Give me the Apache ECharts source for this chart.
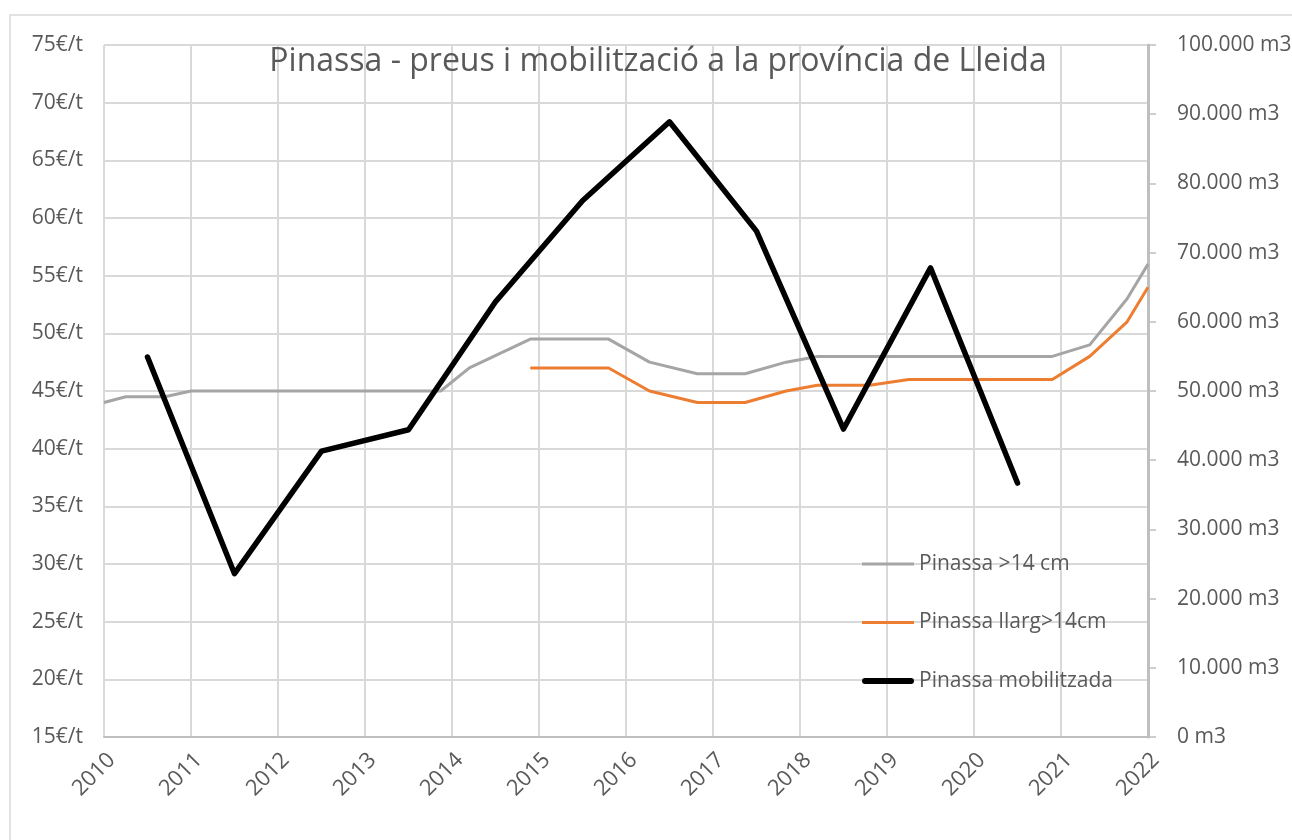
<!DOCTYPE html>
<html>
<head>
<meta charset="utf-8">
<script src="https://cdn.jsdelivr.net/npm/echarts@6/dist/echarts.min.js"></script>
<style>
  html, body { margin: 0; padding: 0; background: #fff; }
  #chart { width: 1292px; height: 840px; }
</style>
</head>
<body>
<div id="chart"></div>
<script>
// Pinassa >14 cm (€/t)
const grayYears = [2010.0, 2010.25, 2010.7, 2011.0, 2013.87, 2014.2, 2014.9, 2015.8, 2016.27, 2016.82, 2017.37, 2017.84, 2018.2, 2020.9, 2021.33, 2021.76, 2022.0];
const grayPrices = [44, 44.5, 44.5, 45, 45, 47, 49.5, 49.5, 47.5, 46.5, 46.5, 47.5, 48, 48, 49, 53, 56];

// Pinassa llarg>14cm (€/t)
const orangeYears = [2014.9, 2015.8, 2016.27, 2016.82, 2017.37, 2017.84, 2018.2, 2018.8, 2019.25, 2020.9, 2021.33, 2021.76, 2022.0];
const orangePrices = [47, 47, 45, 44, 44, 45, 45.5, 45.5, 46, 46, 48, 51, 54];

// Pinassa mobilitzada (m3)
const mobYears = [2010.5, 2011.5, 2012.5, 2013.5, 2014.5, 2015.5, 2016.5, 2017.5, 2018.5, 2019.5, 2020.5];
const mobVolumes = [54900, 23600, 41300, 44400, 62900, 77500, 88900, 73100, 44500, 67800, 36700];

const seriesNames = ["Pinassa >14 cm", "Pinassa llarg>14cm", "Pinassa mobilitzada"];
const seriesColors = ["#a5a5a5", "#ed7d31", "#000000"];
const titleText = "Pinassa - preus i mobilització a la província de Lleida";

const font = "Open Sans";
const textColor = "#595959";

const pairs = (xs, ys) => xs.map((x, i) => [x, ys[i]]);
const fmtM3 = (v) => String(v).replace(/\B(?=(\d{3})+(?!\d))/g, ".") + " m3";

const chart = echarts.init(document.getElementById("chart"));

chart.setOption({
  animation: false,
  textStyle: { fontFamily: font },
  graphic: [
    {
      type: "rect",
      shape: { x: 10, y: 15, width: 1300, height: 840 },
      style: { fill: "none", stroke: "#d9d9d9", lineWidth: 1.5 },
      z: -1,
    },
  ],
  title: {
    text: titleText,
    left: 653,
    top: 41,
    textAlign: "center",
    textStyle: {
      fontFamily: font,
      fontSize: 32,
      fontWeight: "normal",
      color: textColor,
    },
  },
  grid: {
    left: 104,
    right: 144,
    top: 45,
    bottom: 103,
    outerBoundsMode: "none",
  },
  legend: {
    orient: "vertical",
    left: 857,
    top: 548,
    itemWidth: 52,
    itemHeight: 14,
    itemGap: 36.5,
    textStyle: {
      fontFamily: font,
      fontSize: 21,
      lineHeight: 22,
      color: textColor,
    },
    data: [
      { name: seriesNames[0], icon: "path://M0,0 L52,0 L52,3 L0,3 Z", itemStyle: { color: seriesColors[0] } },
      { name: seriesNames[1], icon: "path://M0,0 L52,0 L52,3 L0,3 Z", itemStyle: { color: seriesColors[1] } },
      { name: seriesNames[2], icon: "path://M3,0 L49,0 A3,3 0 0 1 49,6 L3,6 A3,3 0 0 1 3,0 Z", itemStyle: { color: seriesColors[2] } },
    ],
  },
  xAxis: {
    type: "value",
    min: 2010,
    max: 2022,
    interval: 1,
    axisLine: { show: true, lineStyle: { color: "#bfbfbf", width: 2 } },
    axisTick: { show: false },
    splitLine: { show: true, lineStyle: { color: "#d9d9d9", width: 2 } },
    axisLabel: {
      rotate: 45,
      margin: 12,
      fontSize: 22,
      verticalAlign: "top",
      color: textColor,
      formatter: (v) => String(v),
    },
  },
  yAxis: [
    {
      type: "value",
      min: 15,
      max: 75,
      interval: 5,
      axisLine: { show: false },
      axisTick: { show: false },
      splitLine: { show: true, lineStyle: { color: "#d9d9d9", width: 2 } },
      axisLabel: {
        margin: 21,
        fontSize: 21,
        color: textColor,
        formatter: (v) => v + "€/t",
      },
    },
    {
      type: "value",
      position: "right",
      min: 0,
      max: 100000,
      interval: 10000,
      axisLine: { show: true, lineStyle: { color: "#bfbfbf", width: 3 } },
      axisTick: { show: true, inside: false, length: 8, lineStyle: { color: "#bfbfbf", width: 1.5 } },
      splitLine: { show: false },
      axisLabel: {
        margin: 29,
        fontSize: 21,
        color: textColor,
        formatter: fmtM3,
      },
    },
  ],
  series: [
    {
      name: seriesNames[0],
      type: "line",
      yAxisIndex: 0,
      symbol: "none",
      data: pairs(grayYears, grayPrices),
      lineStyle: { color: seriesColors[0], width: 3 },
      itemStyle: { color: seriesColors[0] },
      z: 3,
    },
    {
      name: seriesNames[1],
      type: "line",
      yAxisIndex: 0,
      symbol: "none",
      data: pairs(orangeYears, orangePrices),
      lineStyle: { color: seriesColors[1], width: 3 },
      itemStyle: { color: seriesColors[1] },
      z: 4,
    },
    {
      name: seriesNames[2],
      type: "line",
      yAxisIndex: 1,
      symbol: "none",
      data: pairs(mobYears, mobVolumes),
      lineStyle: { color: seriesColors[2], width: 5.5, cap: "round", join: "round" },
      itemStyle: { color: seriesColors[2] },
      z: 5,
    },
  ],
});
</script>
</body>
</html>
